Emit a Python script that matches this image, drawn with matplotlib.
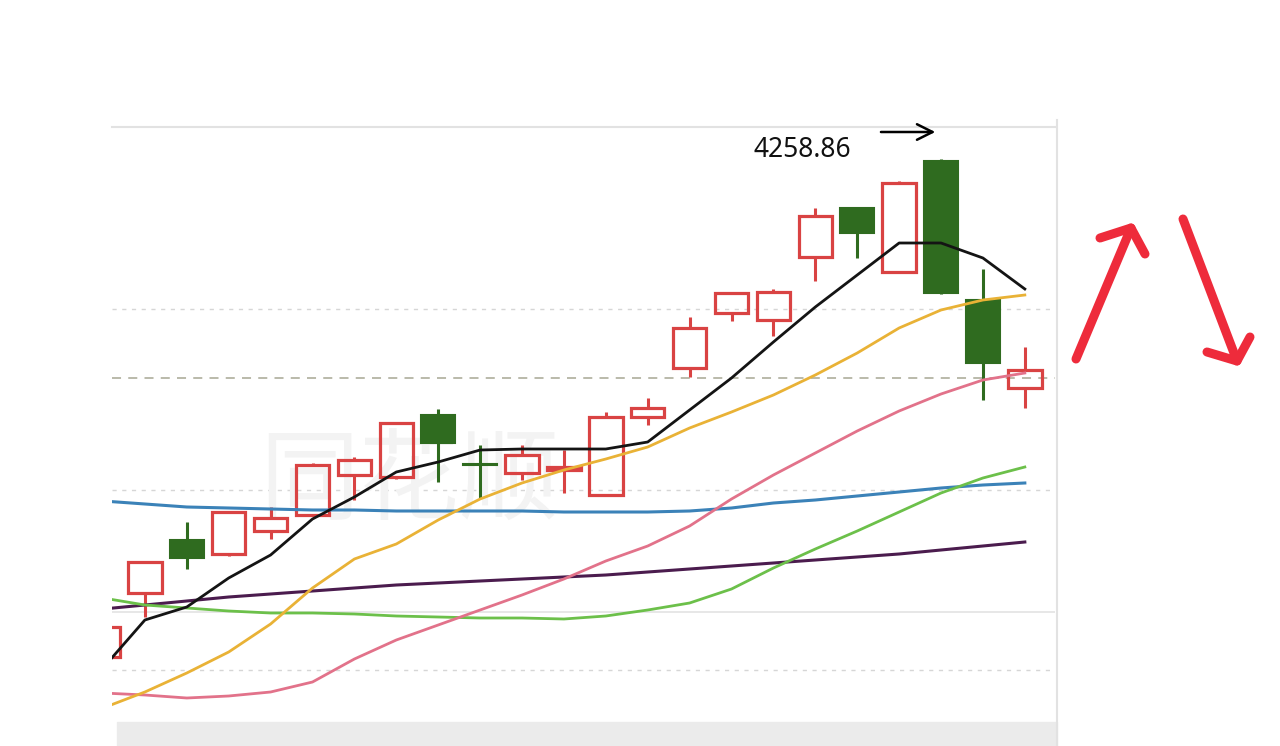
import matplotlib
matplotlib.use('Agg')
import matplotlib.pyplot as plt
from matplotlib.lines import Line2D
from matplotlib.patches import Rectangle
import numpy as np

# daily candles (index points)
opens  = [3761, 3825, 3878, 3864, 3887, 3903, 3943, 3941, 4003, 3954, 3945, 3948,
          3923, 4001, 4050, 4105, 4098, 4161, 4210, 4146, 4257, 4118, 4030]
highs  = [3794, 3856, 3896, 3907, 3911, 3955, 3961, 3996, 4009, 3973, 3973, 3968,
          4006, 4020, 4101, 4126, 4129, 4210, 4211, 4237, 4258.86, 4149, 4071]
lows   = [3758, 3801, 3849, 3862, 3879, 3902, 3918, 3939, 3936, 3920, 3938, 3925,
          3923, 3993, 4041, 4097, 4082, 4137, 4160, 4146, 4124, 4018, 4010]
closes = [3791, 3856, 3860, 3906, 3900, 3953, 3958, 3995, 3975, 3953, 3963, 3951,
          4001, 4010, 4090, 4125, 4126, 4202, 4185, 4235, 4125, 4055, 4048]

# moving averages
ma5   = [3750, 3798, 3811, 3840, 3863, 3899, 3921, 3946, 3956, 3968, 3969, 3969,
         3969, 3976, 4008, 4040, 4076, 4111, 4143, 4175, 4175, 4160, 4129]
ma10  = [3710, 3726, 3745, 3766, 3794, 3830, 3859, 3874, 3898, 3919, 3935, 3948,
         3959, 3971, 3990, 4006, 4023, 4043, 4065, 4090, 4108, 4118, 4123]
ma20  = [3725, 3723, 3720, 3722, 3726, 3736, 3759, 3778, 3793, 3808, 3823, 3839,
         3857, 3872, 3892, 3919, 3943, 3965, 3987, 4007, 4024, 4038, 4045]
ma30  = [3820, 3813, 3810, 3807, 3805, 3805, 3804, 3802, 3801, 3800, 3800, 3799,
         3802, 3808, 3815, 3829, 3850, 3869, 3887, 3906, 3925, 3940, 3951]
ma60  = [3917, 3914, 3911, 3910, 3909, 3908, 3908, 3907, 3907, 3907, 3907, 3906,
         3906, 3906, 3907, 3910, 3915, 3918, 3922, 3926, 3930, 3933, 3935]
ma120 = [3809, 3813, 3817, 3821, 3824, 3827, 3830, 3833, 3835, 3837, 3839, 3841,
         3843, 3846, 3849, 3852, 3855, 3858, 3861, 3864, 3868, 3872, 3876]

# horizontal reference lines of the chart
grid_dotted = [4109, 3928, 3748]
grid_solid = [3806]
price_line = 4040
high_label = '4258.86'

RED = '#d94343'
GREEN = '#2f6b1f'

W, H = 1280, 746


def fig_xy(px, py):
    # image pixels -> figure fraction
    return px / W, 1 - py / H


fig = plt.figure(figsize=(W / 100, H / 100), dpi=100)
ax = fig.add_axes([112 / W, 22 / H, (1055 - 112) / W, (724 - 127) / H])

x = np.arange(len(opens))
o = np.array(opens, dtype=float)
c = np.array(closes, dtype=float)
hi = np.array(highs, dtype=float)
lo = np.array(lows, dtype=float)
up = c > o
top = np.maximum(o, c)
bot = np.minimum(o, c)
cols = np.where(up, RED, GREEN)

# grid
for g in grid_dotted:
    ax.axhline(g, color='#d6d6d6', lw=1.0, ls=(0, (3, 4)), zorder=0)
for g in grid_solid:
    ax.axhline(g, color='#e3e3e3', lw=1.2, zorder=0)
ax.axhline(price_line, color='#b4b4a4', lw=1.3, ls=(0, (5, 4)), zorder=0)

# watermark
ax.text(7.3, 3935, '同花顺', fontsize=72, color='#f3f3f3', ha='center', va='center',
        family=['Noto Sans CJK SC', 'DejaVu Sans'], zorder=0)

# candles: wicks above and below the body, hollow red / filled green bodies
ax.vlines(x, top, hi, colors=cols, lw=2.2, zorder=2)
ax.vlines(x, lo, bot, colors=cols, lw=2.2, zorder=2)
ax.bar(x[up], (c - o)[up], bottom=o[up], width=0.8, facecolor='none',
       edgecolor=RED, lw=2.3, zorder=2)
ax.bar(x[~up], np.maximum(o - c, 1)[~up], bottom=c[~up], width=0.8,
       facecolor=GREEN, edgecolor=GREEN, lw=1.5, zorder=2)

# moving averages on top
ax.plot(x, ma120, color='#4b1c4e', lw=2.2, zorder=3)
ax.plot(x, ma60, color='#3b82b8', lw=2.2, zorder=3)
ax.plot(x, ma30, color='#6cc04a', lw=2.0, zorder=3)
ax.plot(x, ma20, color='#e2728a', lw=2.0, zorder=3)
ax.plot(x, ma10, color='#e9b236', lw=2.0, zorder=3)
ax.plot(x, ma5, color='#141414', lw=2.0, zorder=4)

# high annotation
imax = int(np.argmax(hi))
ax.annotate('', xy=(imax - 0.07, 4286), xytext=(imax - 1.5, 4286),
            arrowprops=dict(arrowstyle='->', color='black', lw=1.8,
                            mutation_scale=28), annotation_clip=False)
ax.text(imax - 3.32, 4268, high_label, fontsize=19, ha='center', va='center',
        family='Noto Sans', color='#111111')

ax.set_xlim(0.215, 22.72)
ax.set_ylim(3694, 4291)
ax.set_xticks([])
ax.set_yticks([])
for s in ['left', 'bottom', 'right']:
    ax.spines[s].set_visible(False)
ax.spines['top'].set_color('#e2e2e2')
ax.spines['top'].set_linewidth(1.5)

# gray band under the chart and right border
fig.patches.append(Rectangle(fig_xy(117, 746), (1057 - 117) / W, 24 / H,
                             transform=fig.transFigure, color='#ebebeb', zorder=0))
bx, by = zip(fig_xy(1057, 120), fig_xy(1057, 746))
fig.add_artist(Line2D(bx, by, transform=fig.transFigure, color='#e2e2e2', lw=1.5))

# hand drawn red arrows on the right
strokes = [
    [(1076, 359), (1131, 228)],
    [(1100, 238), (1131, 228), (1145, 254)],
    [(1183, 219), (1237, 361)],
    [(1207, 352), (1237, 361), (1250, 337)],
]
for st in strokes:
    px = [fig_xy(a, b) for a, b in st]
    fig.add_artist(Line2D([p[0] for p in px], [p[1] for p in px],
                          transform=fig.transFigure, color='#ee2b3b', lw=6.5,
                          solid_capstyle='round', solid_joinstyle='round'))

fig.savefig('out.png', dpi=100, facecolor='white')
